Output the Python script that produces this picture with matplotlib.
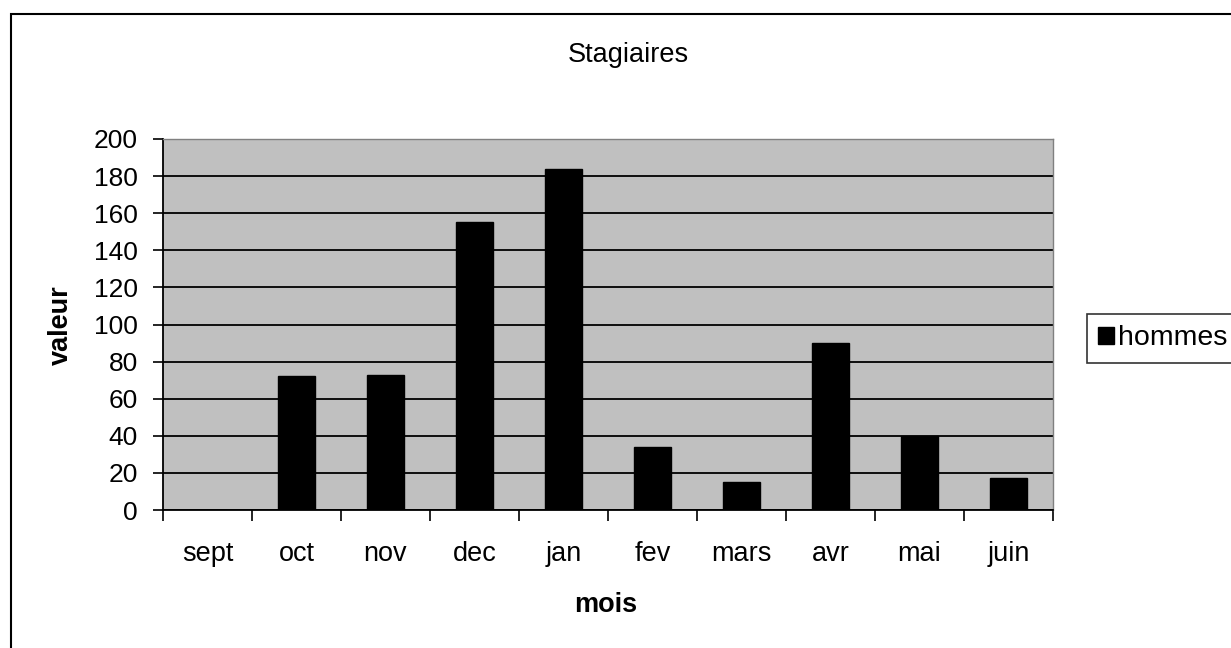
import matplotlib.pyplot as plt
from matplotlib.patches import Rectangle

# monthly counts
mois = ["sept", "oct", "nov", "dec", "jan", "fev", "mars", "avr", "mai", "juin"]
hommes = [0, 72, 73, 155, 184, 34, 15, 90, 40, 17]
y_ticks = list(range(0, 201, 20))

W, H = 1231, 648
plt.rcParams['font.family'] = ['Liberation Sans', 'DejaVu Sans']

fig = plt.figure(figsize=(W / 100, H / 100), dpi=100)
fig.patch.set_facecolor("white")

# outer chart frame (runs off the right/bottom of the picture)
fig.patches.append(Rectangle((11 / W, -0.1), 1.2, 1 - 14 / H + 0.1,
                             transform=fig.transFigure, fill=False,
                             edgecolor="black", linewidth=1.5))

ax = fig.add_axes([163 / W, 1 - 510 / H, (1053 - 163) / W, (510 - 139) / H])
ax.set_facecolor("#c0c0c0")

x = list(range(len(mois)))
bars = ax.bar(x, hommes, width=0.42, color="black", edgecolor="black",
              label="hommes", zorder=3)

ax.set_xlim(-0.5, len(mois) - 0.5)
ax.set_ylim(0, 200)
ax.set_yticks(y_ticks)
ax.set_yticklabels([str(v) for v in y_ticks], fontsize=19)
ax.yaxis.grid(True, color="black", linewidth=1.3, zorder=1)
ax.set_axisbelow(True)

# category labels at centers, tick marks at boundaries
ax.set_xticks(x)
ax.set_xticklabels(mois, fontsize=19.5)
ax.tick_params(axis="x", which="major", length=0, pad=22)
ax.set_xticks([i - 0.5 for i in range(len(mois) + 1)], minor=True)
ax.tick_params(axis="x", which="minor", length=8, width=1.2, color="black")
ax.tick_params(axis="y", length=7, width=1.2, pad=11)

for side in ["top", "right"]:
    ax.spines[side].set_color("#808080")
    ax.spines[side].set_linewidth(1)
for side in ["left", "bottom"]:
    ax.spines[side].set_color("black")
    ax.spines[side].set_linewidth(1.3)

fig.text(628 / W, 1 - 55 / H, "Stagiaires", fontsize=19.5, ha="center", va="center")
fig.text(606 / W, 1 - 605 / H, "mois", fontsize=19.5, fontweight="bold",
         ha="center", va="center")
fig.text(61 / W, 1 - 325 / H, "valeur", fontsize=19.5, fontweight="bold",
         ha="center", va="center", rotation=90)

leg = ax.legend(loc="upper left", bbox_to_anchor=(1087 / W, 1 - 314 / H),
                bbox_transform=fig.transFigure, fontsize=20.5, frameon=True,
                fancybox=False, handlelength=0.55, handleheight=0.55,
                handletextpad=0.15, borderpad=0.4, borderaxespad=0)
leg.get_frame().set_edgecolor("black")
leg.get_frame().set_linewidth(1.2)

fig.savefig("out.png", dpi=100)
plt.close(fig)
